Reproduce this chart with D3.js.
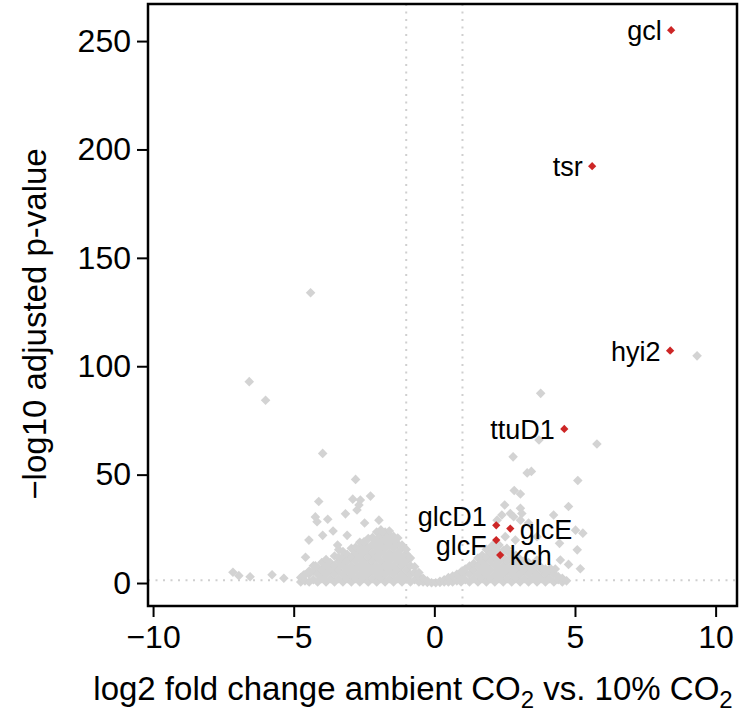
<!DOCTYPE html>
<html><head><meta charset="utf-8">
<script src="https://cdn.jsdelivr.net/npm/d3@7"></script>
<style>
body{margin:0;background:#fff}
text{font-family:"Liberation Sans",Arial,Helvetica,sans-serif;fill:#000}
</style>
</head><body>
<svg id="chart" width="750" height="716"></svg>
<script>
// ---------------- DATA ----------------
const xTicks = [-10, -5, 0, 5, 10];
const yTicks = [0, 50, 100, 150, 200, 250];
const foldChangeCutoffs = [-1, 1];
const pValueCutoff = 1.3; // -log10(0.05)

// highlighted genes
const labeledGenes      = ["gcl", "tsr", "hyi2", "ttuD1", "glcD1", "glcE", "glcF", "kch"];
const labeledLog2FC     = [8.42, 5.61, 8.38, 4.62, 2.20, 2.70, 2.20, 2.34];
const labeledNegLog10P  = [255.0, 192.3, 107.2, 71.1, 26.6, 25.1, 19.8, 12.9];

// scattered (non-highlighted) genes away from the dense core
const scatterLog2FC = [
  -4.40, -6.58, -6.00, -3.97, -2.80, -2.27, -4.11, -2.90, -2.63, -2.75, -2.68,
  -4.23, -4.17, -3.79, -3.16, -1.97, -2.48, -1.85, -3.97, -3.60, -3.10, -4.46,
  -3.44, -3.40, -4.58, -4.23, -7.16, -6.95, -6.55, -5.77, -5.35, -4.65,
  9.34, 3.78, 3.72, 5.78, 2.80, 3.30, 3.45, 5.10, 2.84, 3.06, 2.50, 3.06,
  4.77, 2.40, 2.70, 2.82, 3.11, 2.23, 4.24, 3.06, 3.35, 5.02, 5.28, 3.65,
  2.52, 2.88, 4.45, 5.08, 2.58, 3.65, 4.48, 4.77, 5.19, 4.12, 4.30
];
const scatterNegLog10P = [
  133.9, 92.9, 84.3, 59.8, 47.8, 40.1, 37.6, 38.7, 38.3, 33.7, 36.0,
  30.5, 28.3, 29.4, 31.9, 29.0, 27.7, 23.5, 22.0, 24.0, 22.0, 19.8,
  17.5, 15.4, 11.9, 8.0, 5.0, 3.4, 2.9, 3.8, 2.2, 3.7,
  104.8, 87.5, 66.0, 64.1, 58.2, 50.8, 51.5, 47.3, 42.7, 41.1, 36.0, 34.5,
  35.3, 31.4, 32.1, 30.6, 32.1, 29.0, 31.4, 29.0, 27.7, 24.4, 23.0, 21.4,
  21.4, 19.8, 18.3, 15.3, 16.0, 10.6, 10.6, 8.6, 6.6, 6.8, 6.5
];

// dense core of genes, grouped by log2 fold change
const coreLog2FC = [
  -4.75, -4.60, -4.45, -4.30, -4.15, -4.00, -3.85, -3.70, -3.55, -3.40,
  -3.25, -3.10, -2.95, -2.80, -2.65, -2.50, -2.35, -2.20, -2.05, -1.90,
  -1.75, -1.60, -1.45, -1.30, -1.15, -1.00, -0.85, -0.70, -0.55, -0.40,
  -0.25, -0.10, 0.05, 0.20, 0.35, 0.50, 0.65, 0.80, 0.95, 1.10,
  1.25, 1.40, 1.55, 1.70, 1.85, 2.00, 2.15, 2.30, 2.45, 2.60,
  2.75, 2.90, 3.05, 3.20, 3.35, 3.50, 3.65, 3.80, 3.95, 4.10,
  4.25, 4.40, 4.55, 4.70
];
const coreNegLog10P = [
  [0.5, 2.5], [1, 3.8], [0.5, 4, 5.5], [1.5, 5.5, 8], [0.5, 4, 7], [2, 6, 9.5],
  [0.5, 4, 8, 10.8], [2, 6, 9.5], [0.5, 4, 8, 12.5], [2, 6, 10, 12],
  [0.5, 4, 8, 12, 14.5], [2, 6, 10, 13.2], [0.5, 4, 8, 12, 16], [2, 6, 10, 14, 16.5],
  [0.5, 4, 8, 12, 16, 18.8], [2, 6, 10, 14, 18, 19], [0.5, 4, 8, 12, 16, 20.5],
  [2, 6, 10, 14, 18, 21], [0.5, 4, 8, 12, 16, 20, 23.5], [2, 6, 10, 14, 18, 22, 24.5],
  [0.5, 4, 8, 12, 16, 20, 23.5], [2, 6, 10, 14, 18, 22, 24], [0.5, 4, 8, 12, 16, 20, 21.5],
  [2, 6, 10, 14, 18, 20.8], [0.5, 4, 8, 12, 16, 17.5], [2, 6, 10, 13.5, 15.5],
  [0.5, 4, 8, 11.5], [1.5, 5, 7.5], [0.5, 3, 4.8], [0.5, 2.2],
  [0.3, 1], [0.1], [0.1], [0.3, 0.8], [0.5, 1.5], [0.5, 2.5], [0.5, 3.2], [1, 4],
  [0.5, 3, 5.2], [1.5, 5, 6.5],
  [0.5, 4, 7.8], [2, 6, 9], [0.5, 4, 8, 11.5], [2, 6, 10, 12.8], [0.5, 4, 8, 12, 15.5],
  [2, 6, 10, 14, 16.5], [0.5, 4, 8, 12, 16, 18.5], [2, 6, 10, 14, 17.5], [0.5, 4, 8, 12, 15],
  [2, 6, 10, 14.5],
  [0.5, 4, 8, 12, 13], [2, 6, 10, 12.8], [0.5, 4, 8, 11], [2, 6, 10.2], [0.5, 4, 8, 9.5],
  [2, 6, 8.8], [0.5, 4, 8.2], [2, 6, 7.2], [0.5, 4, 6.5], [2, 5.5],
  [0.5, 4.2], [1.5, 3], [0.5, 2.2], [1]
];

// ---------------- LAYOUT ----------------
const plot = {left: 148, right: 737, top: 4, bottom: 606};
const svg = d3.select("#chart");

const x = d3.scaleLinear().domain([-10.18, 10.76]).range([plot.left, plot.right]);
const y = d3.scaleLinear().domain([-10.6, 267.1]).range([plot.bottom, plot.top]);

const grey = "#d3d3d3", red = "#cd2626", cutoffColor = "#cfcfcf";

// cutoff lines
const cut = svg.append("g");
cut.selectAll("line.v").data(foldChangeCutoffs).join("line")
  .attr("x1", d => x(d)).attr("x2", d => x(d))
  .attr("y1", plot.top).attr("y2", plot.bottom)
  .attr("stroke", cutoffColor).attr("stroke-width", 2).attr("stroke-dasharray", "2,5.5");
cut.append("line")
  .attr("x1", plot.left).attr("x2", plot.right)
  .attr("y1", y(pValueCutoff)).attr("y2", y(pValueCutoff))
  .attr("stroke", cutoffColor).attr("stroke-width", 2).attr("stroke-dasharray", "2,5.5");

// points
const greyPts = [];
coreLog2FC.forEach((fc, i) => coreNegLog10P[i].forEach(p => greyPts.push([fc, p])));
scatterLog2FC.forEach((fc, i) => greyPts.push([fc, scatterNegLog10P[i]]));

const greySym = d3.symbol(d3.symbolSquare, 46)();
const redSym = d3.symbol(d3.symbolSquare, 34)();

svg.append("g").selectAll("path").data(greyPts).join("path")
  .attr("d", greySym)
  .attr("transform", d => `translate(${x(d[0])},${y(d[1])}) rotate(45)`)
  .attr("fill", grey);

const genes = labeledGenes.map((g, i) => ({name: g, fc: labeledLog2FC[i], p: labeledNegLog10P[i]}));
svg.append("g").selectAll("path").data(genes).join("path")
  .attr("d", redSym)
  .attr("transform", d => `translate(${x(d.fc)},${y(d.p)}) rotate(45)`)
  .attr("fill", red);

// gene label placement (side of the point and baseline offset in px)
const labelPlacement = {
  gcl:   {side: "left",  dy: 10},
  tsr:   {side: "left",  dy: 10},
  hyi2:  {side: "left",  dy: 10},
  ttuD1: {side: "left",  dy: 10},
  glcD1: {side: "left",  dy: 1},
  glcE:  {side: "right", dy: 10},
  glcF:  {side: "left",  dy: 15},
  kch:   {side: "right", dy: 10}
};
svg.append("g").selectAll("text").data(genes).join("text")
  .attr("x", d => x(d.fc) + (labelPlacement[d.name].side === "right" ? 9.5 : -9.5))
  .attr("y", d => y(d.p) + labelPlacement[d.name].dy)
  .attr("text-anchor", d => labelPlacement[d.name].side === "right" ? "start" : "end")
  .attr("font-size", 27)
  .text(d => d.name);

// axes
const fmt = d => d < 0 ? "\u2212" + Math.abs(d) : String(d);
const xAxis = svg.append("g").attr("transform", `translate(0,${plot.bottom})`)
  .call(d3.axisBottom(x).tickValues(xTicks).tickSize(11).tickPadding(8).tickFormat(fmt));
const yAxis = svg.append("g").attr("transform", `translate(${plot.left},0)`)
  .call(d3.axisLeft(y).tickValues(yTicks).tickSize(11).tickPadding(6).tickFormat(fmt));
[xAxis, yAxis].forEach(a => {
  a.select(".domain").remove();
  a.selectAll(".tick line").attr("stroke", "#000").attr("stroke-width", 2);
  a.selectAll(".tick text").attr("font-size", 32).attr("font-family", "Liberation Sans, Arial, sans-serif").attr("fill", "#000");
});

// box
svg.append("rect")
  .attr("x", plot.left).attr("y", plot.top)
  .attr("width", plot.right - plot.left).attr("height", plot.bottom - plot.top)
  .attr("fill", "none").attr("stroke", "#000").attr("stroke-width", 2.5);

// axis titles
const xt = svg.append("text").attr("x", 413).attr("y", 700)
  .attr("text-anchor", "middle").attr("font-size", 33);
xt.append("tspan").text("log2 fold change ambient CO");
xt.append("tspan").attr("font-size", 24).attr("dy", 8).text("2");
xt.append("tspan").attr("dy", -8).text(" vs. 10% CO");
xt.append("tspan").attr("font-size", 24).attr("dy", 8).text("2");

svg.append("text")
  .attr("transform", `translate(46,${324}) rotate(-90)`)
  .attr("text-anchor", "middle").attr("font-size", 33)
  .text("\u2212log10 adjusted p-value");
</script>
</body></html>
